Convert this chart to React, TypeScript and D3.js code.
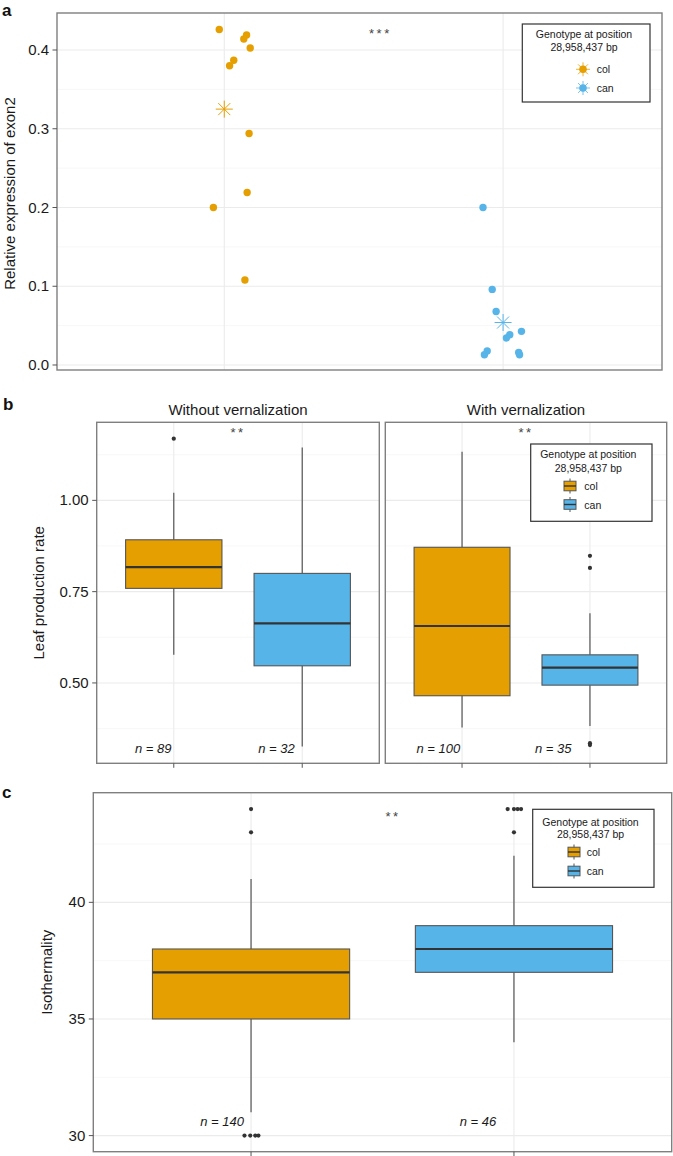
import React from "react";
import * as d3 from "d3";

const FONT = "'Liberation Sans', Arial, Helvetica, sans-serif";

const genotypes = ["col", "can"];
const genotypeColors = ["#E69F00", "#56B4E9"];
const legendTitle = ["Genotype at position", "28,958,437 bp"];

// Panel a: relative expression of exon2
const exprCol = [0.426, 0.419, 0.414, 0.4025, 0.387, 0.38, 0.294, 0.219, 0.2, 0.108];
const exprColJitter = [-0.018, 0.08, 0.07, 0.093, 0.034, 0.019, 0.089, 0.082, -0.039, 0.074];
const exprCan = [0.2, 0.096, 0.068, 0.0427, 0.0385, 0.0343, 0.0178, 0.0131, 0.016, 0.013];
const exprCanJitter = [-0.072, -0.039, -0.025, 0.066, 0.024, 0.012, -0.057, -0.067, 0.056, 0.059];
const exprTicks = [0, 0.1, 0.2, 0.3, 0.4];
const exprMinor = [0.05, 0.15, 0.25, 0.35];

// Panel b: leaf production rate [lowerWhisker, q1, median, q3, upperWhisker]
const leafFacets = ["Without vernalization", "With vernalization"];
const leafStatsNoVern = [
  [0.577, 0.759, 0.817, 0.892, 1.021],
  [0.326, 0.547, 0.663, 0.8, 1.145],
];
const leafStatsVern = [
  [0.378, 0.465, 0.656, 0.8715, 1.133],
  [0.382, 0.494, 0.542, 0.577, 0.691],
];
const leafOutNoVern = [[1.169], []];
const leafOutVern = [[], [0.848, 0.815, 0.335, 0.33]];
const leafN = [
  [89, 32],
  [100, 35],
];
const leafTicks = [0.5, 0.75, 1.0];
const leafMinor = [0.375, 0.625, 0.875, 1.125];

// Panel c: isothermality
const isoStats = [
  [31, 35, 37, 38, 41],
  [34, 37, 38, 39, 42],
];
const isoOutliers = [
  [44, 43, 30, 30, 30, 30],
  [44, 44, 44, 44, 43],
];
const isoOutJitter = [
  [0, 0, -0.025, -0.003, 0.016, 0.028],
  [-0.024, 0, 0.014, 0.027, 0],
];
const isoN = [140, 46];
const isoTicks = [30, 35, 40];
const isoMinor = [32.5, 37.5, 42.5];

type Lin = d3.ScaleLinear<number, number>;

function Grid({ x, y, major, minor }: { x: Lin; y: Lin; major: number[]; minor: number[] }) {
  const [x0, x1] = x.range();
  const [y1, y0] = y.range();
  return (
    <g>
      {minor.map((v) => (
        <line key={"mi" + v} x1={x0} x2={x1} y1={y(v)} y2={y(v)} stroke="#f3f3f3" strokeWidth={0.7} />
      ))}
      {major.map((v) => (
        <line key={"ma" + v} x1={x0} x2={x1} y1={y(v)} y2={y(v)} stroke="#ebebeb" strokeWidth={1.1} />
      ))}
      {[1, 2].map((c) => (
        <line key={"v" + c} x1={x(c)} x2={x(c)} y1={y0} y2={y1} stroke="#ebebeb" strokeWidth={1.1} />
      ))}
    </g>
  );
}

function Border({ x, y }: { x: Lin; y: Lin }) {
  const [x0, x1] = x.range();
  const [y1, y0] = y.range();
  return <rect x={x0} y={y0} width={x1 - x0} height={y1 - y0} fill="none" stroke="#7f7f7f" strokeWidth={1.4} />;
}

function YAxis({ x, y, ticks, fmt }: { x: Lin; y: Lin; ticks: number[]; fmt: (v: number) => string }) {
  const x0 = x.range()[0];
  return (
    <g>
      {ticks.map((v) => (
        <g key={v}>
          <line x1={x0 - 4.5} x2={x0} y1={y(v)} y2={y(v)} stroke="#555" strokeWidth={1} />
          <text x={x0 - 8} y={y(v) + 5} textAnchor="end" fontSize={15} fill="#1a1a1a" fontFamily={FONT}>
            {fmt(v)}
          </text>
        </g>
      ))}
    </g>
  );
}

function XTicks({ x, y }: { x: Lin; y: Lin }) {
  const yb = y.range()[0];
  return (
    <g>
      {[1, 2].map((c) => (
        <line key={c} x1={x(c)} x2={x(c)} y1={yb} y2={yb + 4.5} stroke="#555" strokeWidth={1} />
      ))}
    </g>
  );
}

function Box({
  x,
  y,
  cat,
  stats,
  color,
  outliers,
  jitter,
}: {
  x: Lin;
  y: Lin;
  cat: number;
  stats: number[];
  color: string;
  outliers: number[];
  jitter?: number[];
}) {
  const cx = x(cat);
  const xl = x(cat - 0.375);
  const xr = x(cat + 0.375);
  const [lw, q1, med, q3, uw] = stats;
  return (
    <g>
      <line x1={cx} x2={cx} y1={y(uw)} y2={y(q3)} stroke="#555" strokeWidth={1.2} />
      <line x1={cx} x2={cx} y1={y(q1)} y2={y(lw)} stroke="#555" strokeWidth={1.2} />
      <rect x={xl} y={y(q3)} width={xr - xl} height={y(q1) - y(q3)} fill={color} stroke="#555" strokeWidth={1.1} />
      <line x1={xl} x2={xr} y1={y(med)} y2={y(med)} stroke="#333" strokeWidth={2.2} />
      {outliers.map((v, i) => (
        <circle key={i} cx={x(cat + (jitter ? jitter[i] : 0))} cy={y(v)} r={2.1} fill="#333" />
      ))}
    </g>
  );
}

function Asterisk({ cx, cy, r, color, sw = 1 }: { cx: number; cy: number; r: number; color: string; sw?: number }) {
  return (
    <g>
      {[0, 45, 90, 135].map((a) => {
        const dx = r * Math.cos((a * Math.PI) / 180);
        const dy = r * Math.sin((a * Math.PI) / 180);
        return <line key={a} x1={cx - dx} x2={cx + dx} y1={cy - dy} y2={cy + dy} stroke={color} strokeWidth={sw} />;
      })}
    </g>
  );
}

function Legend({
  left,
  top,
  width,
  height,
  titleX,
  titleY,
  keyX,
  keyYs,
  labelX,
  kind,
}: {
  left: number;
  top: number;
  width: number;
  height: number;
  titleX: number;
  titleY: number[];
  keyX: number;
  keyYs: number[];
  labelX: number;
  kind: "point" | "box";
}) {
  return (
    <g fontFamily={FONT}>
      <rect x={left} y={top} width={width} height={height} fill="#fff" stroke="#333" strokeWidth={1.2} />
      {legendTitle.map((t, i) => (
        <text key={t} x={titleX} y={titleY[i]} textAnchor="middle" fontSize={10.5} fill="#1a1a1a">
          {t}
        </text>
      ))}
      {genotypes.map((g, i) => (
        <g key={g}>
          {kind === "point" ? (
            <g>
              <Asterisk cx={keyX} cy={keyYs[i]} r={7} color={genotypeColors[i]} sw={0.8} />
              <circle cx={keyX} cy={keyYs[i]} r={3.8} fill={genotypeColors[i]} />
            </g>
          ) : (
            <g>
              <line x1={keyX} x2={keyX} y1={keyYs[i] - 7.5} y2={keyYs[i] + 7.5} stroke="#555" strokeWidth={1} />
              <rect x={keyX - 6} y={keyYs[i] - 4.8} width={12} height={9.6} fill={genotypeColors[i]} stroke="#555" strokeWidth={1} />
              <line x1={keyX - 6} x2={keyX + 6} y1={keyYs[i]} y2={keyYs[i]} stroke="#333" strokeWidth={1.4} />
            </g>
          )}
          <text x={labelX} y={keyYs[i] + 4} fontSize={10.5} fill="#1a1a1a">
            {g}
          </text>
        </g>
      ))}
    </g>
  );
}

function Stars({ x, y, text }: { x: number; y: number; text: string }) {
  return (
    <text x={x} y={y} textAnchor="middle" fontSize={13} letterSpacing={2.5} fill="#444" fontFamily={FONT}>
      {text}
    </text>
  );
}

function NLabel({ x, y, n }: { x: number; y: number; n: number }) {
  return (
    <text x={x} y={y} textAnchor="middle" fontSize={13} fontStyle="italic" fill="#1a1a1a" fontFamily={FONT}>
      {`n = ${n}`}
    </text>
  );
}

export default function App() {
  // Panel a scales
  const xA = d3.scaleLinear().domain([0.4, 2.57]).range([57, 662]);
  const yA = d3.scaleLinear().domain([-0.00635, 0.447]).range([370, 13]);
  const exprSeries = [
    { vals: exprCol, jit: exprColJitter },
    { vals: exprCan, jit: exprCanJitter },
  ];

  // Panel b scales
  const yB = d3.scaleLinear().domain([0.28, 1.2137]).range([763.3, 422.3]);
  const xB = [
    d3.scaleLinear().domain([0.4, 2.6]).range([96.7, 379.3]),
    d3.scaleLinear().domain([0.4, 2.6]).range([385.3, 666.7]),
  ];
  const leafStats = [leafStatsNoVern, leafStatsVern];
  const leafOut = [leafOutNoVern, leafOutVern];
  const leafNOffsets = [
    [-0.16, -0.2],
    [-0.185, -0.287],
  ];

  // Panel c scales
  const xC = d3.scaleLinear().domain([0.4, 2.6]).range([93.3, 671.7]);
  const yC = d3.scaleLinear().domain([29.31, 44.7]).range([1151.7, 792.7]);
  const isoNOffsets = [-0.11, -0.137];

  const fmtA = (v: number) => d3.format(".1f")(v);
  const fmtB = (v: number) => d3.format(".2f")(v);
  const fmtC = (v: number) => d3.format("d")(v);

  return (
    <svg
      width={673}
      height={1156}
      style={{ position: "absolute", left: 0, top: 0, background: "#fff" }}
      fontFamily={FONT}
    >
      <rect x={0} y={0} width={673} height={1156} fill="#fff" />

      {/* ---------- Panel a ---------- */}
      <text x={2} y={16} fontSize={17} fontWeight="bold" fill="#111">
        a
      </text>
      <Grid x={xA} y={yA} major={exprTicks} minor={exprMinor} />
      {exprSeries.map((s, gi) => (
        <g key={gi}>
          {s.vals.map((v, i) => (
            <circle key={i} cx={xA(gi + 1 + s.jit[i])} cy={yA(v)} r={3.7} fill={genotypeColors[gi]} />
          ))}
          <Asterisk
            cx={xA(gi + 1)}
            cy={yA(d3.mean(s.vals) as number)}
            r={8.5}
            color={genotypeColors[gi]}
            sw={1}
          />
        </g>
      ))}
      <Border x={xA} y={yA} />
      <YAxis x={xA} y={yA} ticks={exprTicks} fmt={fmtA} />
      <text
        transform={`translate(15,${(yA.range()[0] + yA.range()[1]) / 2 + 2}) rotate(-90)`}
        textAnchor="middle"
        fontSize={15}
        fill="#1a1a1a"
      >
        Relative expression of exon2
      </text>
      <Stars x={xA(1.56)} y={38} text="***" />
      <Legend
        left={522.3}
        top={24}
        width={127.7}
        height={78}
        titleX={584}
        titleY={[38, 50.5]}
        keyX={583}
        keyYs={[69.3, 88]}
        labelX={596.7}
        kind="point"
      />

      {/* ---------- Panel b ---------- */}
      <text x={3} y={410} fontSize={17} fontWeight="bold" fill="#111">
        b
      </text>
      {leafFacets.map((f, fi) => {
        const x = xB[fi];
        return (
          <g key={f}>
            <text x={(x.range()[0] + x.range()[1]) / 2} y={415} textAnchor="middle" fontSize={15} fill="#1a1a1a">
              {f}
            </text>
            <Grid x={x} y={yB} major={leafTicks} minor={leafMinor} />
            {genotypes.map((g, gi) => (
              <Box
                key={g}
                x={x}
                y={yB}
                cat={gi + 1}
                stats={leafStats[fi][gi]}
                color={genotypeColors[gi]}
                outliers={leafOut[fi][gi]}
              />
            ))}
            {genotypes.map((g, gi) => (
              <NLabel key={g} x={x(gi + 1 + leafNOffsets[fi][gi])} y={753} n={leafN[fi][gi]} />
            ))}
            <Stars x={x(1.5)} y={437} text="**" />
            <Border x={x} y={yB} />
            <XTicks x={x} y={yB} />
          </g>
        );
      })}
      <YAxis x={xB[0]} y={yB} ticks={leafTicks} fmt={fmtB} />
      <text
        transform={`translate(44,${(yB.range()[0] + yB.range()[1]) / 2}) rotate(-90)`}
        textAnchor="middle"
        fontSize={15}
        fill="#1a1a1a"
      >
        Leaf production rate
      </text>
      <Legend
        left={530.7}
        top={444}
        width={121.3}
        height={77.3}
        titleX={588.3}
        titleY={[458, 471.5]}
        keyX={570}
        keyYs={[486, 504.5]}
        labelX={584.3}
        kind="box"
      />

      {/* ---------- Panel c ---------- */}
      <text x={2} y={798} fontSize={17} fontWeight="bold" fill="#111">
        c
      </text>
      <Grid x={xC} y={yC} major={isoTicks} minor={isoMinor} />
      {genotypes.map((g, gi) => (
        <Box
          key={g}
          x={xC}
          y={yC}
          cat={gi + 1}
          stats={isoStats[gi]}
          color={genotypeColors[gi]}
          outliers={isoOutliers[gi]}
          jitter={isoOutJitter[gi]}
        />
      ))}
      {genotypes.map((g, gi) => (
        <NLabel key={g} x={xC(gi + 1 + isoNOffsets[gi])} y={1126} n={isoN[gi]} />
      ))}
      <Stars x={xC(1.54)} y={821} text="**" />
      <Border x={xC} y={yC} />
      <XTicks x={xC} y={yC} />
      <YAxis x={xC} y={yC} ticks={isoTicks} fmt={fmtC} />
      <text
        transform={`translate(52,${(yC.range()[0] + yC.range()[1]) / 2}) rotate(-90)`}
        textAnchor="middle"
        fontSize={15}
        fill="#1a1a1a"
      >
        Isothermality
      </text>
      <Legend
        left={532.7}
        top={809.3}
        width={121.3}
        height={78}
        titleX={590.5}
        titleY={[825.5, 838]}
        keyX={574}
        keyYs={[852, 871]}
        labelX={586.7}
        kind="box"
      />
    </svg>
  );
}
